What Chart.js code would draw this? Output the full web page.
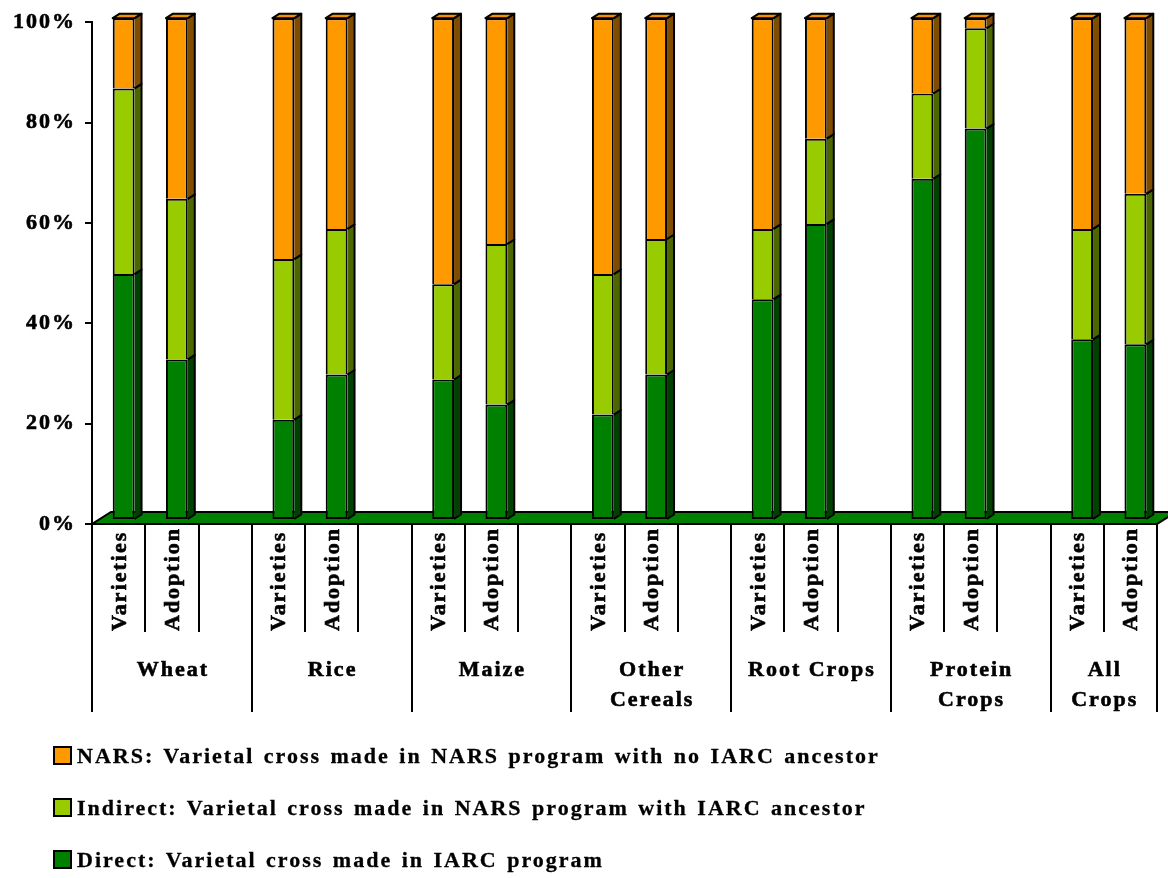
<!DOCTYPE html>
<html>
<head>
<meta charset="utf-8">
<script src="https://cdn.jsdelivr.net/npm/chart.js@4.4.0/dist/chart.umd.min.js"></script>
<style>
  html, body { margin: 0; padding: 0; background: #fff; overflow: hidden; }
  #wrap { position: relative; width: 1168px; height: 878px; }
  #chart { position: absolute; left: 0; top: 0; }
  .legend-item {
    position: absolute; left: 53px;
    font: bold 22px "Liberation Serif", "Times New Roman", serif;
    letter-spacing: 2px; word-spacing: 2px; line-height: 24px; color: #000; white-space: nowrap;
    -webkit-text-stroke: 0.3px #000;
  }
  .legend-item .swatch {
    position: absolute; left: 0; top: 2px; width: 19px; height: 19px;
    box-sizing: border-box; border: 2px solid #000;
  }
  .legend-item .txt { position: absolute; left: 24px; top: 0; }
</style>
</head>
<body>
<div id="wrap">
  <canvas id="chart" width="1168" height="878"></canvas>
  <div id="legend"></div>
</div>
<script>
/* ─── DATA ─── */
const groups = [['Wheat'], ['Rice'], ['Maize'], ['Other', 'Cereals'], ['Root Crops'], ['Protein', 'Crops'], ['All', 'Crops']];
const subLabels = ['Varieties', 'Adoption'];
const yTicks = [0, 20, 40, 60, 80, 100];

// two values per group: Varieties, Adoption (percent)
const direct   = [49, 32, 20, 29, 28, 23, 21, 29, 44, 59, 68, 78, 36, 35];
const indirect = [37, 32, 32, 29, 19, 32, 28, 27, 14, 17, 17, 20, 22, 30];
const nars     = [14, 36, 48, 42, 53, 45, 51, 44, 42, 24, 15,  2, 42, 35];

const seriesNames = [
  'Direct: Varietal cross made in IARC program',
  'Indirect: Varietal cross made in NARS program with IARC ancestor',
  'NARS: Varietal cross made in NARS program with no IARC ancestor'
];

/* ─── STYLE ─── */
const frontColors = ['#008000', '#99CC00', '#FF9900'];
const sideColors  = ['#004000', '#4C6600', '#804C00'];
const topColor    = '#F29100';
const FONT = 'bold 22px "Liberation Serif", "Times New Roman", serif';
const depth = { x: 7, y: -4.5 };   // bar side / top faces
const shift = { x: 5, y: -4 };     // bars stand inside the floor
const floorDepth = { x: 19, y: -12 };

/* ─── BUILD SLOTS (2 bars + 1 gap per group, no gap after last) ─── */
const slotLabels = [];
groups.forEach((g, gi) => {
  slotLabels.push(...subLabels);
  if (gi < groups.length - 1) slotLabels.push('');
});
function expand(arr) {
  const out = [];
  groups.forEach((g, gi) => {
    out.push(arr[gi * 2], arr[gi * 2 + 1]);
    if (gi < groups.length - 1) out.push(null);
  });
  return out;
}
const stacks = [direct, indirect, nars];

/* ─── PLUGINS ─── */
const spacingPlugin = {
  id: 'spacing',
  beforeDraw(chart) { chart.ctx.letterSpacing = '2px'; }
};

const floor3d = {
  id: 'floor3d',
  beforeDatasetsDraw(chart) {
    const { ctx, chartArea: a } = chart;
    const y0 = chart.scales.y.getPixelForValue(0);
    ctx.save();
    ctx.beginPath();
    ctx.moveTo(a.left, y0);
    ctx.lineTo(a.right, y0);
    ctx.lineTo(a.right + floorDepth.x, y0 + floorDepth.y);
    ctx.lineTo(a.left + floorDepth.x, y0 + floorDepth.y);
    ctx.closePath();
    ctx.fillStyle = '#008000';
    ctx.fill();
    ctx.lineWidth = 2;
    ctx.strokeStyle = '#000';
    ctx.stroke();
    ctx.restore();
    ctx.save();
    ctx.translate(shift.x, shift.y);
  },
  afterDatasetsDraw(chart) {
    const ctx = chart.ctx;
    ctx.restore();
    ctx.save();
    ctx.lineWidth = 2;
    ctx.strokeStyle = '#000';
    ctx.lineJoin = 'round';
    const last = chart.data.datasets.length - 1;
    chart.data.datasets.forEach((ds, d) => {
      chart.getDatasetMeta(d).data.forEach((el, i) => {
        if (ds.data[i] == null) return;
        const l = el.x - el.width / 2 + shift.x;
        const r = el.x + el.width / 2 + shift.x;
        const t = el.y + shift.y;
        const b = el.base + shift.y;
        // side face
        ctx.beginPath();
        ctx.moveTo(r, t);
        ctx.lineTo(r + depth.x, t + depth.y);
        ctx.lineTo(r + depth.x, b + depth.y);
        ctx.lineTo(r, b);
        ctx.closePath();
        ctx.fillStyle = sideColors[d];
        ctx.fill();
        ctx.beginPath();
        ctx.moveTo(r, t);
        ctx.lineTo(r + depth.x, t + depth.y);
        ctx.lineTo(r + depth.x, b + depth.y);
        ctx.lineTo(r, b);
        ctx.stroke();
        // top face
        if (d === last) {
          ctx.beginPath();
          ctx.moveTo(l, t);
          ctx.lineTo(l + depth.x, t + depth.y);
          ctx.lineTo(r + depth.x, t + depth.y);
          ctx.lineTo(r, t);
          ctx.closePath();
          ctx.fillStyle = topColor;
          ctx.fill();
          ctx.stroke();
        }
      });
    });
    ctx.restore();
  }
};

function boldText(ctx, text, x, y) {
  ctx.fillText(text, x, y);
  ctx.strokeText(text, x, y);
}

const xLabels = {
  id: 'xLabels',
  afterDraw(chart) {
    const { ctx } = chart;
    const xs = chart.scales.x;
    const y0 = chart.scales.y.getPixelForValue(0);
    const n = slotLabels.length;
    const slot = xs.getPixelForValue(1) - xs.getPixelForValue(0);
    const left = xs.getPixelForValue(0) - slot / 2;
    ctx.save();
    ctx.letterSpacing = '2px';
    ctx.lineWidth = 2;
    ctx.strokeStyle = '#000';
    ctx.fillStyle = '#000';
    ctx.font = FONT;
    // separators
    for (let k = 0; k <= n; k++) {
      const x = Math.round(left + k * slot);
      const full = k % 3 === 0 || k === n;
      ctx.beginPath();
      ctx.moveTo(x, y0);
      ctx.lineTo(x, y0 + (full ? 188 : 108));
      ctx.stroke();
    }
    ctx.lineWidth = 0.6;
    // rotated bar labels
    slotLabels.forEach((lab, i) => {
      if (!lab) return;
      ctx.save();
      ctx.translate(xs.getPixelForValue(i), y0 + 107);
      ctx.rotate(-Math.PI / 2);
      ctx.textAlign = 'left';
      ctx.textBaseline = 'alphabetic';
      boldText(ctx, lab, 0, 7);
      ctx.restore();
    });
    // group labels
    ctx.textAlign = 'center';
    ctx.textBaseline = 'alphabetic';
    groups.forEach((lines, gi) => {
      const k0 = gi * 3, k1 = Math.min(gi * 3 + 3, n);
      const cx = left + (k0 + k1) / 2 * slot + 1;
      lines.forEach((line, j) => boldText(ctx, line, cx, y0 + 152 + j * 30));
    });
    ctx.restore();
  }
};

/* ─── CHART ─── */
const canvas = document.getElementById('chart');
new Chart(canvas, {
  type: 'bar',
  data: {
    labels: slotLabels,
    datasets: stacks.map((arr, d) => ({
      label: seriesNames[d],
      data: expand(arr),
      backgroundColor: frontColors[d],
      borderColor: '#000',
      borderWidth: 2,
      borderSkipped: d === 0 ? false : 'bottom',
      barPercentage: 0.41,
      categoryPercentage: 1.0,
      clip: false
    }))
  },
  options: {
    responsive: false,
    devicePixelRatio: 1,
    animation: false,
    layout: { padding: { top: 16, right: 11, left: 0, bottom: 0 } },
    plugins: { legend: { display: false }, tooltip: { enabled: false } },
    scales: {
      x: {
        stacked: true,
        ticks: { display: false },
        grid: { display: false },
        border: { display: false },
        afterFit: s => { s.height = 354; }
      },
      y: {
        stacked: true,
        min: 0,
        max: 100,
        afterBuildTicks: s => { s.ticks = yTicks.map(v => ({ value: v })); },
        afterFit: s => { s.width = 92; },
        ticks: {
          color: '#000',
          padding: 9,
          textStrokeColor: '#000',
          textStrokeWidth: 0.6,
          font: { family: '"Liberation Serif", "Times New Roman", serif', size: 22, weight: 'bold' },
          callback: v => v + '%'
        },
        grid: { drawOnChartArea: false, drawTicks: true, tickLength: 7, color: '#000', lineWidth: 2 },
        border: { display: true, color: '#000', width: 2 }
      }
    }
  },
  plugins: [spacingPlugin, floor3d, xLabels]
});

/* ─── LEGEND (top to bottom: NARS, Indirect, Direct) ─── */
const legend = document.getElementById('legend');
[2, 1, 0].forEach((d, row) => {
  const item = document.createElement('div');
  item.className = 'legend-item';
  item.style.top = (744 + row * 52) + 'px';
  item.innerHTML = '<span class="swatch" style="background:' + frontColors[d] + '"></span>' +
                   '<span class="txt">' + seriesNames[d] + '</span>';
  legend.appendChild(item);
});
</script>
</body>
</html>
